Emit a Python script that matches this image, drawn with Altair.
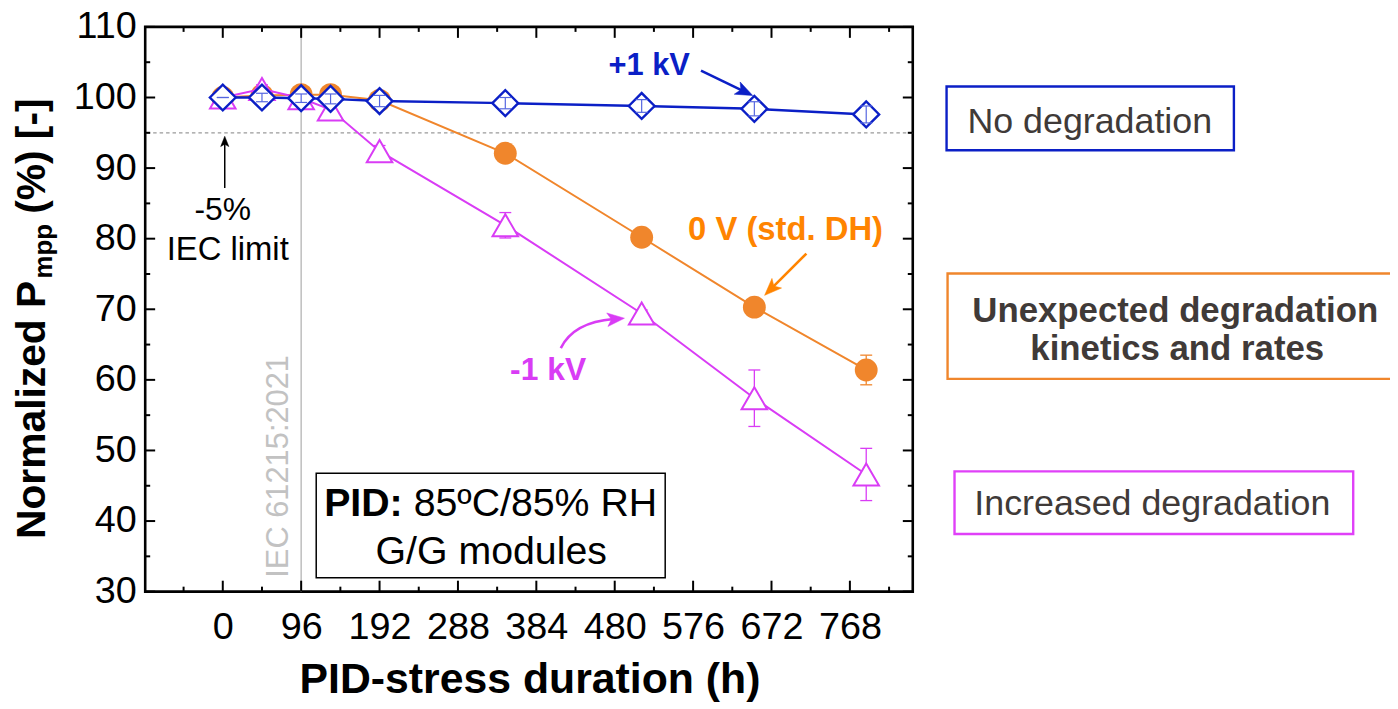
import math
import altair as alt
import pandas as pd

# ---------------- data ----------------
hours = [0, 48, 96, 132, 192, 346, 513, 651, 788]
p_plus1kv = [100.0, 100.0, 99.9, 99.8, 99.5, 99.2, 98.8, 98.4, 97.6]
e_plus1kv = [0.0, 0.6, 0.6, 0.7, 0.8, 0.8, 0.9, 1.0, 1.2]
p_0v = [100.0, 100.3, 100.4, 100.4, 99.6, 92.1, 80.2, 70.3, 61.4]
e_0v = [0.0, 0.6, 0.6, 0.6, 0.5, 0.5, 1.2, 0.8, 2.1]
p_minus1kv = [100.0, 101.2, 99.9, 98.3, 92.4, 81.9, 69.4, 57.4, 46.6]
e_minus1kv = [0.0, 0.6, 0.6, 0.5, 0.8, 1.8, 0.5, 4.0, 3.7]

x_tick_values = [0, 96, 192, 288, 384, 480, 576, 672, 768]
x_minor_values = [-48, 48, 144, 240, 336, 432, 528, 624, 720, 816]
y_tick_values = [30, 40, 50, 60, 70, 80, 90, 100, 110]
y_minor_values = [35, 45, 55, 65, 75, 85, 95, 105]
iec_limit = [95]
iec_duration = [96]

# ---------------- style ----------------
BLUE = "#0B1FC6"
BLUE_ERR = "#5566E0"
ORANGE = "#F0862C"
ORANGE_TXT = "#FF8400"
MAGENTA = "#D93CF5"
GREY_TXT = "#403A38"
FONT = "Liberation Sans, Arial, Helvetica, sans-serif"

W, H = 772, 568          # plot area
OX, OY = 146, 25         # plot origin on the page

xs = alt.Scale(domain=[-95, 845], nice=False, zero=False)
ys = alt.Scale(domain=[30, 110], nice=False, zero=False)

x_axis = alt.Axis(values=x_tick_values, ticks=False, domain=False, grid=False,
                  labelFontSize=38, labelFont=FONT, labelColor="black",
                  labelPadding=17, labelOverlap=False, title=None)
y_axis = alt.Axis(values=y_tick_values, ticks=False, domain=False, grid=False,
                  labelFontSize=38, labelFont=FONT, labelColor="black",
                  labelPadding=9, labelOverlap=False, title=None)


def X(field):
    return alt.X(f"{field}:Q", scale=xs, axis=x_axis)


def Y(field):
    return alt.Y(f"{field}:Q", scale=ys, axis=y_axis)


def series_df(vals, errs):
    return pd.DataFrame({
        "t": hours,
        "v": vals,
        "lo": [v - e for v, e in zip(vals, errs)],
        "hi": [v + e for v, e in zip(vals, errs)],
    })


df_p = series_df(p_plus1kv, e_plus1kv)
df_0 = series_df(p_0v, e_0v)
df_m = series_df(p_minus1kv, e_minus1kv)
one = pd.DataFrame({"a": [0]})

layers = []

# reference lines
layers.append(alt.Chart(pd.DataFrame({"v": iec_limit})).mark_rule(
    color="#9A9A9A", strokeWidth=1.3, strokeDash=[3.5, 3]).encode(y=Y("v")))
layers.append(alt.Chart(pd.DataFrame({"t": iec_duration})).mark_rule(
    color="#BDBDBD", strokeWidth=1.5).encode(x=X("t")))


def errbars(df, color, width=1.3):
    out = [alt.Chart(df).mark_rule(color=color, strokeWidth=width).encode(
        x=X("t"), y=Y("lo"), y2=alt.Y2("hi"))]
    for f in ("lo", "hi"):
        out.append(alt.Chart(df).mark_tick(orient="horizontal", size=12,
                                           thickness=width, color=color,
                                           opacity=1).encode(x=X("t"), y=Y(f)))
    return out


# 0 V series
layers.append(alt.Chart(df_0).mark_line(color=ORANGE, strokeWidth=2).encode(x=X("t"), y=Y("v")))
layers += errbars(df_0, ORANGE)
layers.append(alt.Chart(df_0).mark_circle(size=529, color=ORANGE, opacity=1).encode(x=X("t"), y=Y("v")))

# -1 kV series
layers.append(alt.Chart(df_m).mark_line(color=MAGENTA, strokeWidth=2).encode(x=X("t"), y=Y("v")))
layers += errbars(df_m, MAGENTA)
layers.append(alt.Chart(df_m).mark_point(shape="triangle-up", size=660, filled=True,
                                         fill="white", stroke=MAGENTA, strokeWidth=2,
                                         opacity=1).encode(x=X("t"), y=Y("v")))

# +1 kV series
layers.append(alt.Chart(df_p).mark_line(color=BLUE, strokeWidth=2.4).encode(x=X("t"), y=Y("v")))
layers.append(alt.Chart(df_p).mark_point(shape="diamond", size=676, filled=True,
                                         fill="white", stroke=BLUE, strokeWidth=2.4,
                                         opacity=1).encode(x=X("t"), y=Y("v")))
layers += errbars(df_p, BLUE_ERR, 1.2)

# inward ticks on all four sides
TW = 2
for vals, ln in ((x_tick_values, 11), (x_minor_values, 5)):
    d = pd.DataFrame({"t": vals})
    layers.append(alt.Chart(d).mark_rule(color="black", strokeWidth=TW).encode(
        x=X("t"), y=alt.value(H), y2=alt.value(H - ln)))
    layers.append(alt.Chart(d).mark_rule(color="black", strokeWidth=TW).encode(
        x=X("t"), y=alt.value(0), y2=alt.value(ln)))
for vals, ln in ((y_tick_values, 10), (y_minor_values, 5)):
    d = pd.DataFrame({"v": vals})
    layers.append(alt.Chart(d).mark_rule(color="black", strokeWidth=TW).encode(
        y=Y("v"), x=alt.value(0), x2=alt.value(ln)))
    layers.append(alt.Chart(d).mark_rule(color="black", strokeWidth=TW).encode(
        y=Y("v"), x=alt.value(W), x2=alt.value(W - ln)))


# ---------------- annotations (page pixel positions) ----------------
def text(s, px, py, size, color="black", weight="normal", align="left", angle=0):
    kw = dict(fontSize=size, font=FONT, color=color, fontWeight=weight,
              align=align, baseline="alphabetic")
    if angle:
        kw["angle"] = angle
    return alt.Chart(one).mark_text(**kw).encode(
        x=alt.value(px - OX), y=alt.value(py - OY), text=alt.value(s))


def box(x1, y1, x2, y2, color, width=2.2, fill=None):
    kw = dict(stroke=color, strokeWidth=width)
    if fill:
        kw["fill"] = fill
    else:
        kw["fillOpacity"] = 0
    return alt.Chart(one).mark_rect(**kw).encode(
        x=alt.value(x1 - OX), x2=alt.value(x2 - OX),
        y=alt.value(y1 - OY), y2=alt.value(y2 - OY))


HEAD = "M0,0L-0.75,1.9L0,1.45L0.75,1.9Z"


def arrow(start, tip, color, head_size=300, width=2.0):
    dx, dy = tip[0] - start[0], tip[1] - start[1]
    ang = math.degrees(math.atan2(dx, -dy)) % 360
    L = math.hypot(dx, dy)
    ux, uy = dx / L, dy / L
    r = math.sqrt(head_size) / 2
    ex, ey = tip[0] - ux * r * 1.2, tip[1] - uy * r * 1.2
    return [
        alt.Chart(one).mark_rule(color=color, strokeWidth=width).encode(
            x=alt.value(start[0] - OX), x2=alt.value(ex - OX),
            y=alt.value(start[1] - OY), y2=alt.value(ey - OY)),
        alt.Chart(one).mark_point(shape=HEAD, size=head_size, filled=True, fill=color,
                                  stroke=color, strokeWidth=0.5, opacity=1,
                                  angle=ang).encode(
            x=alt.value(tip[0] - OX), y=alt.value(tip[1] - OY)),
    ]


# IEC 61215 vertical label
layers.append(text("IEC 61215:2021", 290, 579, 31, color="#C2C2C2", angle=270))

# PID box
layers.append(box(318, 474, 669, 579, "black", 1.5, fill="white"))
layers.append(text("PID:", 405, 517, 39.5, weight="bold", align="right"))
layers.append(text("85ºC/85% RH", 416, 517, 39.5))
layers.append(text("G/G modules", 494, 565, 39.5, align="center"))

# -5 % label
layers.append(text("-5%", 224, 219, 32, align="center"))
layers.append(text("IEC limit", 229, 259, 33, align="center"))
layers += arrow((226, 187), (226, 135), "black", head_size=120, width=1.5)

# series labels
layers.append(text("+1 kV", 612, 73, 31, color=BLUE, weight="bold"))
layers += arrow((705, 69), (757, 94), BLUE, head_size=330, width=2.6)
layers.append(text("0 V (std. DH)", 692, 239, 33, color=ORANGE_TXT, weight="bold"))
layers += arrow((811, 253), (769, 295), ORANGE_TXT, head_size=330, width=2.6)
layers.append(text("-1 kV", 513, 380, 32, color=MAGENTA, weight="bold"))
# curved arrow for -1 kV (path in pixels relative to its tip; size 4 -> scale 1)
layers.append(alt.Chart(one).mark_point(shape="M-63,30 Q-50,4 -10,0.8", size=4,
                                        filled=False, stroke=MAGENTA, strokeWidth=2.6,
                                        opacity=1).encode(
    x=alt.value(627 - OX), y=alt.value(318 - OY)))
layers.append(alt.Chart(one).mark_point(shape=HEAD, size=330, filled=True, fill=MAGENTA,
                                        stroke=MAGENTA, strokeWidth=0.5, opacity=1,
                                        angle=85).encode(
    x=alt.value(628 - OX), y=alt.value(318 - OY)))

# right-hand boxes
layers.append(box(952, 85, 1241, 149, BLUE, 2.4))
layers.append(text("No degradation", 1096, 132, 36, color=GREY_TXT, align="center"))
layers.append(box(953, 273, 1520, 379, ORANGE, 2.4))
layers.append(text("Unexpected degradation", 1182, 322, 35, color=GREY_TXT, weight="bold", align="center"))
layers.append(text("kinetics and rates", 1184, 360, 35, color=GREY_TXT, weight="bold", align="center"))
layers.append(box(960, 472, 1361, 535, "#E040F8", 2.4))
layers.append(text("Increased degradation", 1159, 516, 36, color=GREY_TXT, align="center"))

# axis titles
layers.append(text("PID-stress duration (h)", 533, 695, 43, weight="bold", align="center"))
layers.append(text("Normalized P", 45, 540, 41, weight="bold", angle=270))
layers.append(text("mpp", 52, 278, 26, weight="bold", angle=270))
layers.append(text("(%) [-]", 45, 213, 41, weight="bold", angle=270))

chart = alt.layer(*layers).properties(
    width=W, height=H,
    autosize=alt.AutoSizeParams(type="none"),
    padding={"left": OX - 8, "top": OY - 8, "right": 1390 - (OX - 8) - W, "bottom": 113},
    background="white",
).configure_view(stroke="black", strokeWidth=2.6)

chart.save("out.html", embed_options={"renderer": "svg", "actions": False})
